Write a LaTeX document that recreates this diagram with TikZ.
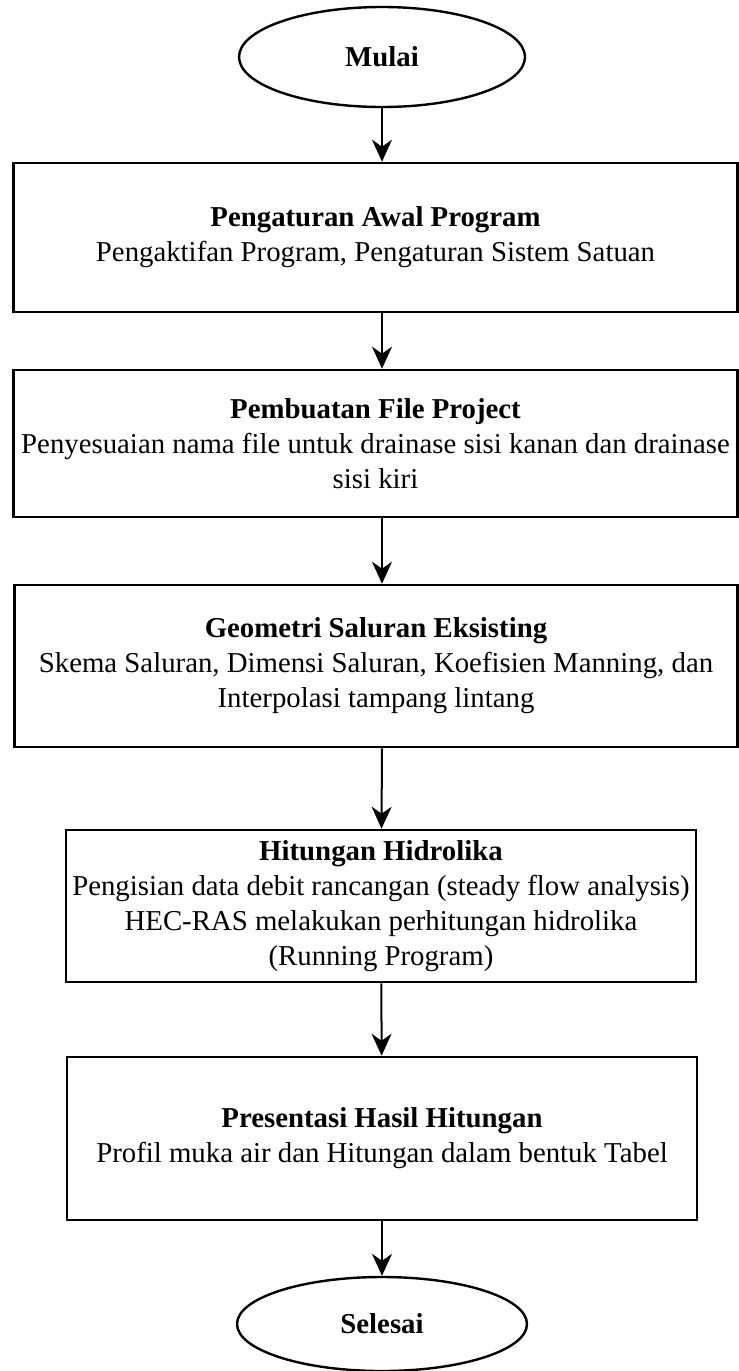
\documentclass[tikz,border=0pt]{standalone}
\usepackage{fontspec}
\setmainfont{Liberation Serif}
\usetikzlibrary{arrows.meta}
\usetikzlibrary{shapes.geometric}
\usetikzlibrary{positioning}

\tikzset{
  stepbox/.style={draw, line width=1.3pt, align=center, inner sep=0pt,
    font=\fontsize{14.4}{17.5}\selectfont},
  term/.style={draw, ellipse, line width=1.2pt, inner sep=0pt,
    font=\fontsize{14.4}{17.5}\selectfont\bfseries},
  arr/.style={line width=1pt, -{Stealth[length=11pt,width=10pt,inset=3.5pt]}},
}

\begin{document}
\begin{tikzpicture}[x=0.5pt,y=-0.5pt]
				\useasboundingbox (0,0) rectangle (739,1371);
				\node[term, minimum width=143pt, minimum height=50pt] (mulai) at (382,57) {Mulai};
				\node[stepbox, minimum width=362pt, minimum height=74.5pt] (awal) at (375.5,237.5)
					{\textbf{Pengaturan Awal Program}\\Pengaktifan Program, Pengaturan Sistem Satuan};
				\node[stepbox, minimum width=362pt, minimum height=73.5pt] (file) at (375.5,443.5)
					{\textbf{Pembuatan File Project}\\Penyesuaian nama file untuk drainase sisi kanan dan drainase\\sisi kiri};
				\node[stepbox, minimum width=361.5pt, minimum height=81pt] (geom) at (376,666)
					{\textbf{Geometri Saluran Eksisting}\\Skema Saluran, Dimensi Saluran, Koefisien Manning, dan\\Interpolasi tampang lintang};
				\node[stepbox, minimum width=315pt, minimum height=76pt] (hitung) at (381,906)
					{\textbf{Hitungan Hidrolika}\\Pengisian data debit rancangan (steady flow analysis)\\HEC-RAS melakukan perhitungan hidrolika\\(Running Program)};
				\node[stepbox, minimum width=315pt, minimum height=81.5pt] (hasil) at (382,1138.5)
					{\textbf{Presentasi Hasil Hitungan}\\Profil muka air dan Hitungan dalam bentuk Tabel};
				\node[term, minimum width=145pt, minimum height=47pt] (selesai) at (382,1324) {Selesai};
				\draw[arr] (mulai) -- (mulai |- awal.north);
				\draw[arr] (mulai |- awal.south) -- (mulai |- file.north);
				\draw[arr] (mulai |- file.south) -- (mulai |- geom.north);
				\draw[arr] (mulai |- geom.south) -- (hitung);
				\draw[arr] (hitung) -- (hasil);
				\draw[arr] (hasil) -- (selesai);
			\end{tikzpicture}
\end{document}
